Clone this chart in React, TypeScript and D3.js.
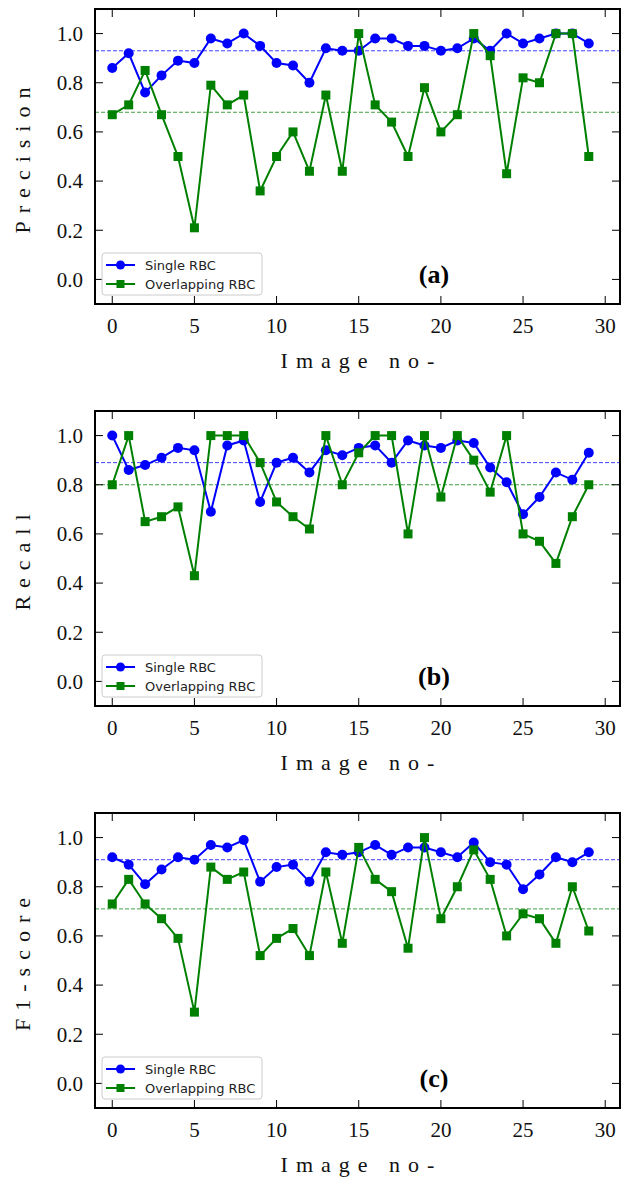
import React from "react";
import * as d3 from "d3";

// values (image no 0..29)
const precisionSingle = [0.86, 0.92, 0.76, 0.83, 0.89, 0.88, 0.98, 0.96, 1.0, 0.95, 0.88, 0.87, 0.8, 0.94, 0.93, 0.93, 0.98, 0.98, 0.95, 0.95, 0.93, 0.94, 0.98, 0.93, 1.0, 0.96, 0.98, 1.0, 1.0, 0.96];
const precisionOverlap = [0.67, 0.71, 0.85, 0.67, 0.5, 0.21, 0.79, 0.71, 0.75, 0.36, 0.5, 0.6, 0.44, 0.75, 0.44, 1.0, 0.71, 0.64, 0.5, 0.78, 0.6, 0.67, 1.0, 0.91, 0.43, 0.82, 0.8, 1.0, 1.0, 0.5];
const precisionMeans = [0.93, 0.68];

const recallSingle = [1.0, 0.86, 0.88, 0.91, 0.95, 0.94, 0.69, 0.96, 0.98, 0.73, 0.89, 0.91, 0.85, 0.94, 0.92, 0.95, 0.96, 0.89, 0.98, 0.96, 0.95, 0.98, 0.97, 0.87, 0.81, 0.68, 0.75, 0.85, 0.82, 0.93];
const recallOverlap = [0.8, 1.0, 0.65, 0.67, 0.71, 0.43, 1.0, 1.0, 1.0, 0.89, 0.73, 0.67, 0.62, 1.0, 0.8, 0.93, 1.0, 1.0, 0.6, 1.0, 0.75, 1.0, 0.9, 0.77, 1.0, 0.6, 0.57, 0.48, 0.67, 0.8];
const recallMeans = [0.89, 0.8];

const f1Single = [0.92, 0.89, 0.81, 0.87, 0.92, 0.91, 0.97, 0.96, 0.99, 0.82, 0.88, 0.89, 0.82, 0.94, 0.93, 0.94, 0.97, 0.93, 0.96, 0.96, 0.94, 0.92, 0.98, 0.9, 0.89, 0.79, 0.85, 0.92, 0.9, 0.94];
const f1Overlap = [0.73, 0.83, 0.73, 0.67, 0.59, 0.29, 0.88, 0.83, 0.86, 0.52, 0.59, 0.63, 0.52, 0.86, 0.57, 0.96, 0.83, 0.78, 0.55, 1.0, 0.67, 0.8, 0.95, 0.83, 0.6, 0.69, 0.67, 0.57, 0.8, 0.62];
const f1Means = [0.91, 0.71];

const xTicks = [0, 5, 10, 15, 20, 25, 30];
const yTicks = [0.0, 0.2, 0.4, 0.6, 0.8, 1.0];
const seriesNames = ["Single RBC", "Overlapping RBC"];

const BLUE = "#0000ff";
const GREEN = "#008000";
const SERIF = "Liberation Serif, Times New Roman, Times, serif";
const SANS = "DejaVu Sans, sans-serif";

const left = 95;
const right = 620;
const plotH = 295;

const Panel = ({ top, yLabel, tag, single, overlap, means }) => {
  const x = d3.scaleLinear().domain([-1.05, 30.9]).range([left, right]);
  const y = d3.scaleLinear().domain([-0.1, 1.1]).range([top + plotH, top]);
  const line = d3
    .line<number>()
    .x((_, i) => x(i))
    .y((d) => y(d));
  const bottom = top + plotH;
  const tick = 8;

  return (
    <g>
      {/* mean lines */}
      <line x1={left} x2={right} y1={y(means[0])} y2={y(means[0])} stroke={BLUE} strokeOpacity={0.75} strokeWidth={1} strokeDasharray="4,2" />
      <line x1={left} x2={right} y1={y(means[1])} y2={y(means[1])} stroke={GREEN} strokeOpacity={0.75} strokeWidth={1} strokeDasharray="4,2" />

      {/* single RBC */}
      <path d={line(single)} fill="none" stroke={BLUE} strokeWidth={2} />
      {single.map((d, i) => (
        <circle key={"s" + i} cx={x(i)} cy={y(d)} r={5} fill={BLUE} />
      ))}

      {/* overlapping RBC */}
      <path d={line(overlap)} fill="none" stroke={GREEN} strokeWidth={2} />
      {overlap.map((d, i) => (
        <rect key={"o" + i} x={x(i) - 4.5} y={y(d) - 4.5} width={9} height={9} fill={GREEN} />
      ))}

      {/* ticks, inside on all sides */}
      {xTicks.map((t) => (
        <g key={"xt" + t}>
          <line x1={x(t)} x2={x(t)} y1={bottom} y2={bottom - tick} stroke="#000" />
          <line x1={x(t)} x2={x(t)} y1={top} y2={top + tick} stroke="#000" />
          <text x={x(t)} y={bottom + 29} textAnchor="middle" style={{ fontFamily: SERIF }} fontSize={21} fill="#111">
            {t}
          </text>
        </g>
      ))}
      {yTicks.map((t) => (
        <g key={"yt" + t}>
          <line x1={left} x2={left + tick} y1={y(t)} y2={y(t)} stroke="#000" />
          <line x1={right} x2={right - tick} y1={y(t)} y2={y(t)} stroke="#000" />
          <text x={83} y={y(t)} dy="0.35em" textAnchor="end" style={{ fontFamily: SERIF }} fontSize={21} fill="#111">
            {t.toFixed(1)}
          </text>
        </g>
      ))}

      <rect x={left} y={top} width={right - left} height={plotH} fill="none" stroke="#000" strokeWidth={2} />

      {/* legend */}
      <rect x={102} y={bottom - 51} width={160} height={42} rx={3} fill="#fff" fillOpacity={0.8} stroke="#cccccc" strokeWidth={1} />
      <line x1={106} x2={135} y1={bottom - 39} y2={bottom - 39} stroke={BLUE} strokeWidth={2} />
      <circle cx={120.5} cy={bottom - 39} r={4.5} fill={BLUE} />
      <text x={145} y={bottom - 39} dy="0.35em" style={{ fontFamily: SANS }} fontSize={13} fill="#222">
        {seriesNames[0]}
      </text>
      <line x1={106} x2={135} y1={bottom - 20} y2={bottom - 20} stroke={GREEN} strokeWidth={2} />
      <rect x={116.5} y={bottom - 24} width={8} height={8} fill={GREEN} />
      <text x={145} y={bottom - 20} dy="0.35em" style={{ fontFamily: SANS }} fontSize={13} fill="#222">
        {seriesNames[1]}
      </text>

      {/* panel tag */}
      <text x={434} y={bottom - 21} textAnchor="middle" style={{ fontFamily: SERIF }} fontWeight="bold" fontSize={26} fill="#000">
        {tag}
      </text>

      {/* axis labels */}
      <text
        transform={`translate(30,${top + plotH / 2}) rotate(-90)`}
        textAnchor="middle"
        style={{ fontFamily: SERIF }}
        fontSize={22}
        letterSpacing={8}
        fill="#111"
      >
        {yLabel}
      </text>
      <text x={(left + right) / 2 + 4} y={bottom + 64} textAnchor="middle" style={{ fontFamily: SERIF }} fontSize={22} letterSpacing={8} fill="#111">
        Image no-
      </text>
    </g>
  );
};

export default function App() {
  return (
    <svg width={630} height={1180} style={{ position: "absolute", left: 0, top: 0, background: "#fff" }}>
      <Panel top={9} yLabel="Precision" tag="(a)" single={precisionSingle} overlap={precisionOverlap} means={precisionMeans} />
      <Panel top={411} yLabel="Recall" tag="(b)" single={recallSingle} overlap={recallOverlap} means={recallMeans} />
      <Panel top={813} yLabel="F1-score" tag="(c)" single={f1Single} overlap={f1Overlap} means={f1Means} />
    </svg>
  );
}
